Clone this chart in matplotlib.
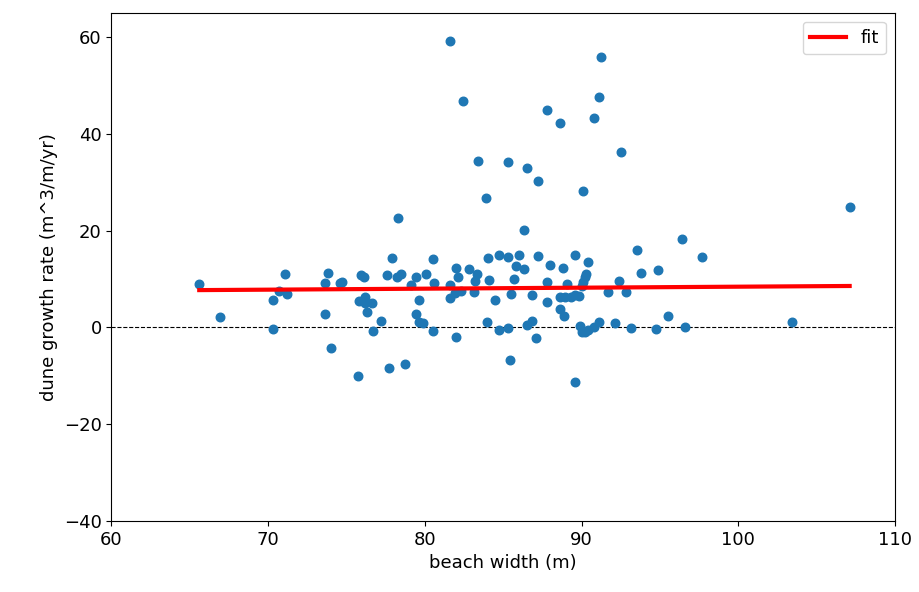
import numpy as np
import matplotlib
matplotlib.use('Agg')
import matplotlib.pyplot as plt

# beach width (m) and dune growth rate (m^3/m/yr)
beach_width = [
    65.6, 66.9, 70.3, 70.3, 70.7, 71.05, 71.2, 73.6, 73.8, 73.6,
    74.6, 74.7, 74.0, 75.9, 76.1, 75.8, 76.2, 76.3, 76.6, 76.2,
    77.2, 76.7, 77.9, 77.6, 78.2, 78.5, 79.1, 79.4, 79.6, 79.4,
    79.6, 79.9, 80.1, 75.7, 77.7, 78.7, 80.5, 78.3, 80.6, 80.5,
    82.0, 81.6, 82.0, 82.1, 81.6, 81.9, 82.3, 82.8, 83.3, 83.2,
    83.1, 84.0, 84.7, 85.3, 86.0, 85.8, 86.3, 84.1, 85.7, 84.5,
    85.5, 83.96, 84.7, 85.3, 85.4, 86.8, 86.5, 86.8, 87.1, 87.2,
    88.0, 87.8, 87.8, 88.6, 88.9, 88.8, 89.05, 88.6, 88.95, 89.3,
    89.6, 89.8, 89.6, 90.4, 90.3, 90.2, 90.1, 90.0, 89.6, 89.9,
    90.0, 90.2, 90.4, 90.8, 91.1, 91.7, 92.4, 92.85, 92.1, 93.15,
    93.55, 93.8, 94.9, 94.75, 95.5, 96.4, 97.7, 96.6, 103.4, 107.1,
    81.6, 91.26, 82.4, 91.1, 87.8, 88.6, 90.8, 92.5, 83.4, 85.3,
    86.5, 87.2, 90.1, 83.9, 86.3,
]
growth_rate = [
    8.9, 2.1, -0.3, 5.6, 7.6, 11.0, 6.8, 2.7, 11.3, 9.1,
    9.2, 9.4, -4.3, 10.9, 10.3, 5.5, 6.2, 3.1, 5.0, 5.0,
    1.3, -0.8, 14.3, 10.9, 10.5, 11.0, 8.8, 10.4, 5.6, 2.7,
    1.2, 0.8, 11.1, -10.0, -8.3, -7.6, 14.1, 22.5, 9.2, -0.8,
    -2.0, 8.8, 12.2, 10.3, 6.1, 7.0, 7.5, 12.0, 11.0, 9.5,
    7.3, 14.3, 14.9, 14.6, 15.0, 12.7, 12.1, 9.8, 9.9, 5.7,
    6.8, 1.2, -0.5, -0.2, -6.7, 6.7, 0.5, 1.4, -2.1, 14.7,
    12.9, 9.3, 5.2, 3.7, 2.4, 12.3, 9.0, 6.3, 6.2, 6.2,
    6.7, 6.5, 15.0, 13.6, 11.0, 10.4, 9.4, 8.6, -11.2, 0.3,
    -0.9, -0.9, -0.5, 0.0, 1.2, 7.4, 9.6, 7.25, 0.8, -0.1,
    16.0, 11.2, 11.9, -0.4, 2.4, 18.3, 14.5, 0.0, 1.05, 24.9,
    59.1, 55.9, 46.7, 47.6, 44.9, 42.3, 43.3, 36.2, 34.4, 34.2,
    32.9, 30.2, 28.2, 26.7, 20.2,
]

# linear fit
fit_slope = 0.0205
fit_intercept = 6.35

x = np.array(beach_width)
y = np.array(growth_rate)
xs = np.sort(x)

fig = plt.figure(figsize=(9.19, 5.92), dpi=100)
ax = fig.add_axes([0.1213, 0.12, 0.8527, 0.8585])

ax.scatter(x, y, s=38, color='#1f77b4', zorder=2)
ax.plot(xs, fit_intercept + fit_slope * xs, color='red', lw=3, label='fit', zorder=3)
ax.axhline(0, color='black', linestyle='--', lw=0.8, zorder=1)

ax.set_xlim(60, 110)
ax.set_ylim(-40, 65)
ax.set_xticks([60, 70, 80, 90, 100, 110])
ax.set_yticks([-40, -20, 0, 20, 40, 60])
ax.tick_params(labelsize=13)
ax.set_xlabel('beach width (m)', fontsize=13)
ax.set_ylabel('dune growth rate (m^3/m/yr)', fontsize=13)
ax.legend(loc='upper right', fontsize=13)

plt.savefig('out.png', dpi=100)
